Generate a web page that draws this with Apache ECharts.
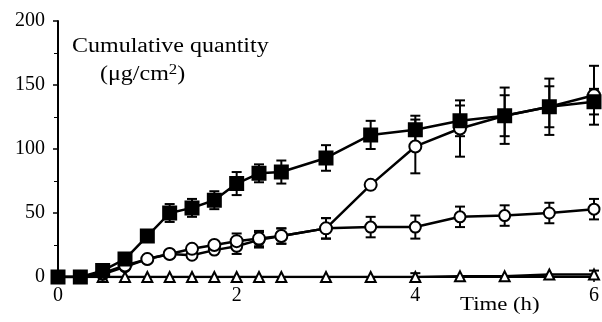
<!DOCTYPE html>
<html><head><meta charset="utf-8">
<script src="https://cdn.jsdelivr.net/npm/echarts@6/dist/echarts.min.js"></script>
<style>html,body{margin:0;padding:0;background:#fff}#c{width:602px;height:322px}</style>
</head><body><div id="c"></div>
<script>
var time = [0,0.25,0.5,0.75,1,1.25,1.5,1.75,2,2.25,2.5,3,3.5,4,4.5,5,5.5,6];
var squares = [0,0,5,14,32,50,54,60,73,81,82,93,111,115,122,126,133,137];
var squaresErr = [0,0,0,0,0,7,7,7,9,7,9,10,11,11,12,16,16,10];
var circlesA = [0,0,3,9,14,18,22,25,28,30,32,38,72,102,116,126,133,142];
var circlesAErr = [0,0,0,0,0,0,0,0,6,6,6,8,0,21,22,22,22,23];
var circlesB = [0,0,2,8,14,18,17,21,24,29,32,38,39,39,47,48,50,53];
var circlesBErr = [0,0,0,0,0,0,0,0,6,6,6,8,8,9,8,8,8,8];
var triangles = [0,0,0,0,0,0,0,0,0,0,0,0,0,0,0.5,0.5,2,2];
var trianglesErr = [0,0,0,0,0,0,0,0,0,0,0,0,0,3,0,0,0,3];
var xTicks = [0,2,4,6];
var yTicks = [0,50,100,150,200];

function pairs(vals){ return time.map(function(t,i){return [t,vals[i]];}); }
function errData(vals, errs){ return time.map(function(t,i){return [t,vals[i],errs[i]];}).filter(function(d){return d[2]>0;}); }
function errSeries(vals, errs){
  return {
    type:'custom', z:1, silent:true,
    data: errData(vals, errs),
    renderItem: function(params, api){
      var x=api.value(0), y=api.value(1), e=api.value(2);
      var top=api.coord([x,y+e]), bot=api.coord([x,y-e]);
      var w=5;
      var st={stroke:'#000',lineWidth:2};
      return {type:'group',children:[
        {type:'line',shape:{x1:top[0],y1:top[1],x2:bot[0],y2:bot[1]},style:st},
        {type:'line',shape:{x1:top[0]-w,y1:top[1],x2:top[0]+w,y2:top[1]},style:st},
        {type:'line',shape:{x1:bot[0]-w,y1:bot[1],x2:bot[0]+w,y2:bot[1]},style:st}
      ]};
    }
  };
}
function lineSeries(vals, symbol, size, fill){
  return {
    type:'line', data:pairs(vals), z:3,
    symbol:symbol, symbolSize:size, showSymbol:true,
    lineStyle:{color:'#000',width:2.5},
    itemStyle:{color:fill,borderColor:'#000',borderWidth:2},
    animation:false
  };
}
var chart = echarts.init(document.getElementById('c'));
chart.setOption({
  animation:false,
  backgroundColor:'#fff',
  grid:{left:58,right:5,top:21,bottom:45,containLabel:false},
  xAxis:{type:'value',min:0,max:6,interval:2,
    axisLine:{lineStyle:{color:'#000',width:2}},
    axisTick:{show:true,inside:false,length:5,lineStyle:{color:'#000',width:1.5}},
    axisLabel:{color:'#000',fontFamily:'Liberation Serif',fontSize:20,margin:9,
      formatter:function(v){return xTicks.indexOf(v)>=0?String(v):'';}},
    splitLine:{show:false}},
  yAxis:{type:'value',min:0,max:200,interval:50,
    axisLine:{show:true,lineStyle:{color:'#000',width:2}},
    axisTick:{show:true,inside:false,length:5,lineStyle:{color:'#000',width:1.5}},
    minorTick:{show:true,splitNumber:2,length:4,lineStyle:{color:'#000',width:1}},
    axisLabel:{color:'#000',fontFamily:'Liberation Serif',fontSize:20,margin:13,
      formatter:function(v){return yTicks.indexOf(v)>=0?String(v):'';}},
    splitLine:{show:false}},
  graphic:[
    {type:'text',x:72,y:37,scaleX:1.2,style:{text:'Cumulative quantity',font:'20px "Liberation Serif"',fill:'#000'}},
    {type:'text',x:100,y:63,scaleX:1.2,style:{text:'(\u03bcg/cm{s|2})',rich:{s:{fontSize:14,verticalAlign:'top',padding:[0,0,10,0],fontFamily:'Liberation Serif'}},font:'20px "Liberation Serif"',fill:'#000'}},
    {type:'text',x:460,y:296,scaleX:1.2,style:{text:'Time (h)',font:'19px "Liberation Serif"',fill:'#000'}}
  ],
  series:[
    errSeries(squares, squaresErr),
    errSeries(circlesA, circlesAErr),
    errSeries(circlesB, circlesBErr),
    errSeries(triangles, trianglesErr),
    lineSeries(triangles,'triangle',10,'#fff'),
    lineSeries(circlesB,'circle',11,'#fff'),
    lineSeries(circlesA,'circle',12,'#fff'),
    lineSeries(squares,'rect',13,'#000')
  ]
});
</script></body></html>
